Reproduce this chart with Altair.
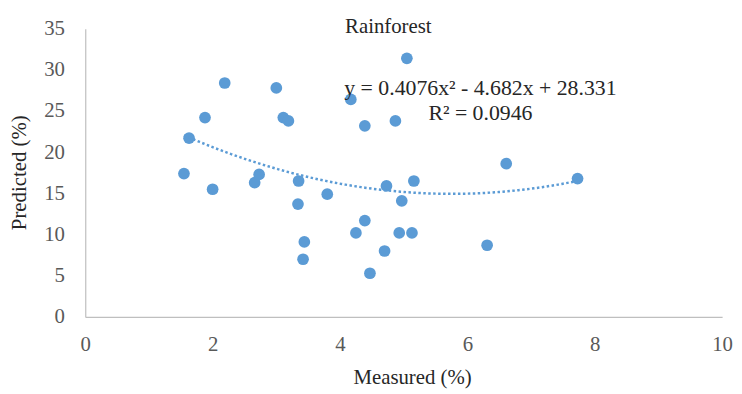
import altair as alt
import pandas as pd

# Values
measured = [2.19, 3.00, 5.05, 4.17, 1.88, 3.11, 3.19, 4.39, 4.87, 1.63, 1.55,
            2.00, 2.66, 2.73, 3.35, 3.34, 3.80, 3.44, 3.42, 4.25, 4.39, 4.47,
            4.70, 4.73, 4.97, 4.93, 5.13, 5.16, 6.31, 6.61, 7.73]
predicted = [28.4, 27.8, 31.4, 26.4, 24.2, 24.2, 23.8, 23.2, 23.8, 21.7, 17.4,
             15.5, 16.3, 17.3, 16.5, 13.7, 14.9, 9.1, 7.0, 10.2, 11.7, 5.3,
             8.0, 15.9, 14.1, 10.2, 10.2, 16.5, 8.7, 18.6, 16.8]
title_text = ["Rainforest"]
eq_lines = ["y = 0.4076x\u00b2 - 4.682x + 28.331", "R\u00b2 = 0.0946"]
x_ticks = [0, 2, 4, 6, 8, 10]
y_ticks = [0, 5, 10, 15, 20, 25, 30, 35]

df = pd.DataFrame({"Measured": measured, "Predicted": predicted})

FONT = "Liberation Serif"
BLUE = "#5b9bd5"
FS = 21

x_enc = alt.X(
    "Measured:Q",
    scale=alt.Scale(domain=[0, 10], nice=False, zero=False),
    axis=alt.Axis(
        values=x_ticks, format="d", title="Measured (%)", grid=False, ticks=False, tickSize=0,
        domainColor="#bfbfbf", domainWidth=1.2,
        labelFont=FONT, labelFontSize=FS, labelColor="#595959", labelPadding=17,
        labelFlush=False,
        titleFont=FONT, titleFontSize=FS, titleFontWeight="normal", titleColor="#262626",
        titleX=330, titleY=67, titleBaseline="alphabetic",
    ),
)
y_enc = alt.Y(
    "Predicted:Q",
    scale=alt.Scale(domain=[0, 35], nice=False, zero=False),
    axis=alt.Axis(
        values=y_ticks, format="d", title="Predicted (%)", grid=False, ticks=False, tickSize=0,
        domainColor="#bfbfbf", domainWidth=1.2,
        labelFont=FONT, labelFontSize=FS, labelColor="#595959", labelPadding=21,
        labelFlush=False,
        titleFont=FONT, titleFontSize=FS, titleFontWeight="normal", titleColor="#262626",
        titleX=-66, titleY=145, titleBaseline="middle", titleAngle=270,
    ),
)

base = alt.Chart(df)

points = base.mark_circle(size=140, color=BLUE, opacity=1).encode(x=x_enc, y=y_enc)

trend = base.transform_regression(
    "Measured", "Predicted", method="poly", order=2
).mark_line(color=BLUE, strokeWidth=2.5, strokeDash=[2.5, 2.5]).encode(
    x="Measured:Q", y="Predicted:Q"
)

title = alt.Chart(pd.DataFrame({"t": title_text})).mark_text(
    font=FONT, fontSize=FS, color="#262626", align="center", baseline="alphabetic"
).encode(text="t:N", x=alt.value(306), y=alt.value(4))

equation = alt.Chart(pd.DataFrame({"t": [0]})).mark_text(
    font=FONT, fontSize=22, color="#262626", align="center", baseline="alphabetic",
    lineHeight=25,
).encode(text=alt.value(eq_lines), x=alt.value(399), y=alt.value(67))

chart = alt.layer(points, trend, title, equation).properties(
    width=643, height=291,
    padding={"left": 78, "top": 19, "right": 12, "bottom": 76},
    autosize=alt.AutoSizeParams(type="none"),
    background="white",
).configure_view(strokeWidth=0)

chart.save("out.html", embed_options={"renderer": "svg", "actions": False})
